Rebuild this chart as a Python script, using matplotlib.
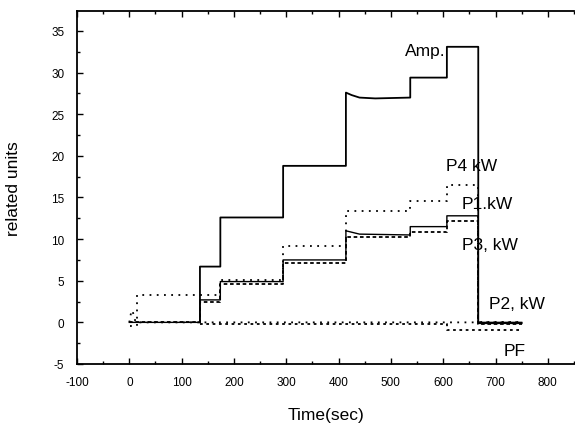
"""
Step test: current and phase powers vs time
"""

import matplotlib.pyplot as plt
from matplotlib.ticker import MultipleLocator

plt.rcParams['font.family'] = ['Liberation Sans', 'DejaVu Sans']
plt.rcParams['axes.unicode_minus'] = False

# Amp. (solid)
amp_t = [135, 135, 174, 174, 294, 294, 414, 414, 425, 440, 470, 537, 537, 607, 607, 667, 667, 750]
amp_v = [0, 6.7, 6.7, 12.6, 12.6, 18.8, 18.8, 27.6, 27.3, 27.0, 26.9, 27.0, 29.4, 29.4, 33.1, 33.1, -0.1, -0.1]

# P4 kW (sparse dots)
p4_t = [2, 15, 15, 174, 174, 294, 294, 414, 414, 537, 537, 607, 607, 667, 667, 750]
p4_v = [-0.4, -0.4, 3.3, 3.3, 5.1, 5.1, 9.2, 9.2, 13.4, 13.4, 14.6, 14.6, 16.5, 16.5, 0.0, 0.0]

# P1 kW (thin solid)
p1_t = [0, 135, 135, 174, 174, 294, 294, 414, 414, 440, 537, 537, 607, 607, 667, 667, 750]
p1_v = [0, 0, 2.7, 2.7, 4.9, 4.9, 7.5, 7.5, 11.0, 10.6, 10.5, 11.5, 11.5, 12.8, 12.8, 0.0, 0.0]

# P3 kW (dashed)
p3_t = [0, 135, 135, 174, 174, 294, 294, 414, 414, 537, 537, 607, 607, 667, 667, 750]
p3_v = [0, 0, 2.4, 2.4, 4.6, 4.6, 7.1, 7.1, 10.2, 10.2, 10.8, 10.8, 12.2, 12.2, -0.2, -0.2]

# P2 kW (dots near zero)
p2_t = [0, 4, 6, 10, 12, 750]
p2_v = [0, 1.4, 1.4, 0.5, 0, 0]

# PF (dashed near zero)
pf_t = [135, 607, 607, 750]
pf_v = [-0.25, -0.25, -0.95, -0.95]

fig = plt.figure(figsize=(5.75, 4.27), dpi=100)
ax = fig.add_axes([77 / 575, 1 - 365 / 427, 497 / 575, 353 / 427])

ax.plot(amp_t, amp_v, color='black', lw=1.3, ls='-')
ax.plot(p4_t, p4_v, color='black', lw=1.3, ls=(0, (1, 3)))
ax.plot(p1_t, p1_v, color='black', lw=1.0, ls='-')
ax.plot(p3_t, p3_v, color='black', lw=1.3, ls=(0, (2, 1.5)))
ax.plot(p2_t, p2_v, color='black', lw=1.3, ls=(0, (1, 3)))
ax.plot(pf_t, pf_v, color='black', lw=1.3, ls=(0, (1.5, 2)))

ax.text(605, 32.6, 'Amp.', ha='right', va='center', fontsize=12.5)
ax.text(605, 18.8, 'P4 kW', ha='left', va='center', fontsize=12.5)
ax.text(636, 14.3, 'P1.kW', ha='left', va='center', fontsize=12.5)
ax.text(636, 9.4, 'P3, kW', ha='left', va='center', fontsize=12.5)
ax.text(688, 2.3, 'P2, kW', ha='left', va='center', fontsize=12.5)
ax.text(716, -3.4, 'PF', ha='left', va='center', fontsize=12.5)

ax.set_xlim(-100, 850)
ax.set_ylim(-5, 37.4)
ax.xaxis.set_major_locator(MultipleLocator(100))
ax.xaxis.set_minor_locator(MultipleLocator(50))
ax.yaxis.set_major_locator(MultipleLocator(5))
ax.yaxis.set_minor_locator(MultipleLocator(2.5))
ax.tick_params(which='both', direction='in', top=True, right=False, labelsize=8.5, width=1)
ax.tick_params(which='major', length=4)
ax.tick_params(which='minor', length=2)
ax.tick_params(axis='x', pad=9)
ax.tick_params(axis='y', pad=9)
ax.spines['right'].set_visible(False)
for s in ['left', 'bottom', 'top']:
    ax.spines[s].set_linewidth(1.3)

ax.set_xlabel('Time(sec)', fontsize=12.5, labelpad=13)
ax.set_ylabel('related units', fontsize=12.5, labelpad=22)

fig.savefig('out.png', dpi=100)
